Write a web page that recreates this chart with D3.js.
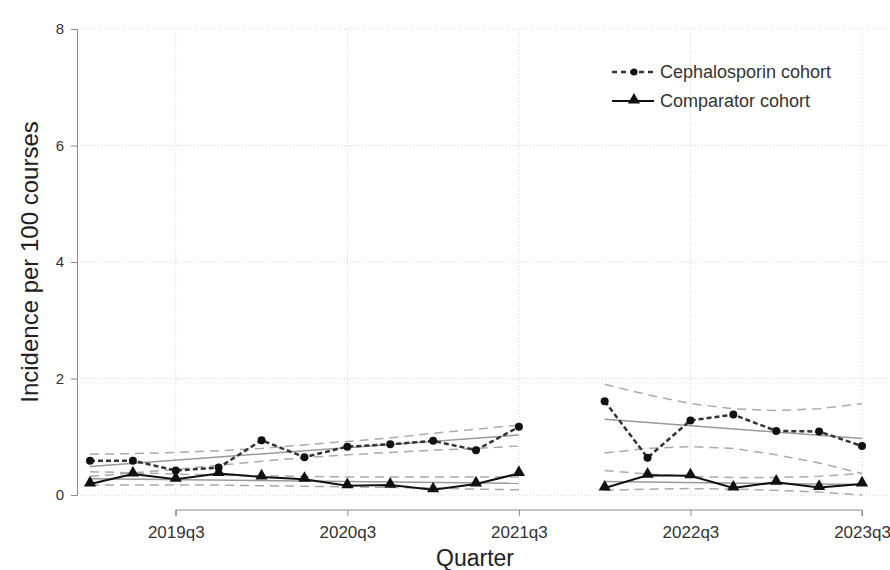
<!DOCTYPE html>
<html>
<head>
<meta charset="utf-8">
<script src="https://cdn.jsdelivr.net/npm/d3@7"></script>
<style>
  body { margin: 0; background: #fff; }
  svg { font-family: "Liberation Sans", Arial, sans-serif; }
</style>
</head>
<body>
<svg id="chart" width="890" height="570"></svg>
<script>
(function () {
  'use strict';

  // quarter index: 0 = 2019q1
  var quarters1 = [0, 1, 2, 3, 4, 5, 6, 7, 8, 9, 10];   // 2019q1 .. 2021q3
  var quarters2 = [12, 13, 14, 15, 16, 17, 18];          // 2022q1 .. 2023q3

  var tickQuarters = [2, 6, 10, 14, 18];
  var tickLabels = ['2019q3', '2020q3', '2021q3', '2022q3', '2023q3'];
  var yTicks = [0, 2, 4, 6, 8];

  // observed incidence per 100 courses
  var ceph1 = [0.59, 0.59, 0.42, 0.47, 0.94, 0.65, 0.83, 0.87, 0.93, 0.77, 1.17];
  var comp1 = [0.19, 0.36, 0.27, 0.37, 0.31, 0.27, 0.16, 0.17, 0.09, 0.19, 0.37];
  var ceph2 = [1.61, 0.64, 1.28, 1.38, 1.10, 1.09, 0.84];
  var comp2 = [0.12, 0.34, 0.33, 0.12, 0.22, 0.13, 0.19];

  // fitted trends and 95% CI
  var cephFit1 = [0.49, 1.03];
  var cephUp1 = [0.70, 0.71, 0.73, 0.76, 0.80, 0.86, 0.92, 0.98, 1.06, 1.13, 1.20];
  var cephLo1 = [0.32, 0.38, 0.44, 0.51, 0.58, 0.64, 0.69, 0.73, 0.77, 0.80, 0.84];
  var compFit1 = [0.28, 0.20];
  var compUp1 = [0.40, 0.38, 0.36, 0.34, 0.33, 0.32, 0.31, 0.31, 0.31, 0.31, 0.31];
  var compLo1 = [0.17, 0.17, 0.17, 0.17, 0.16, 0.15, 0.14, 0.13, 0.12, 0.10, 0.09];

  var cephFit2 = [1.30, 0.97];
  var cephUp2 = [1.90, 1.72, 1.57, 1.48, 1.45, 1.48, 1.57];
  var cephLo2 = [0.72, 0.80, 0.83, 0.80, 0.69, 0.55, 0.37];
  var compFit2 = [0.23, 0.18];
  var compUp2 = [0.42, 0.36, 0.32, 0.30, 0.30, 0.32, 0.37];
  var compLo2 = [0.08, 0.10, 0.11, 0.10, 0.08, 0.05, 0.00];

  var svg = d3.select('#chart');

  var x = d3.scaleLinear().domain([0, 18]).range([90, 862]);
  var y = d3.scaleLinear().domain([0, 8]).range([495, 29]);

  // gridlines
  svg.append('g').selectAll('line')
    .data(yTicks)
    .enter().append('line')
    .attr('x1', 80).attr('x2', 888)
    .attr('y1', function (d) { return y(d); })
    .attr('y2', function (d) { return y(d); })
    .attr('stroke', '#d8d8d8')
    .attr('stroke-dasharray', '1,2');

  svg.append('g').selectAll('line')
    .data(tickQuarters)
    .enter().append('line')
    .attr('x1', function (d) { return x(d); })
    .attr('x2', function (d) { return x(d); })
    .attr('y1', y(8)).attr('y2', y(0))
    .attr('stroke', '#d8d8d8')
    .attr('stroke-dasharray', '1,2');

  // y axis
  var yAxis = svg.append('g')
    .attr('transform', 'translate(77,0)')
    .call(d3.axisLeft(y).tickValues(yTicks).tickSize(6).tickPadding(7));
  yAxis.selectAll('path, line').attr('stroke', '#888');
  yAxis.selectAll('text').attr('fill', '#333').style('font-size', '15px');

  // x axis
  var xAxis = svg.append('g')
    .attr('transform', 'translate(0,510)')
    .call(d3.axisBottom(x).tickValues(tickQuarters)
      .tickFormat(function (d, i) { return tickLabels[i]; })
      .tickSize(6).tickPadding(10));
  xAxis.select('.domain').attr('d', 'M' + x(2) + ',6V0H' + x(18) + 'V6').attr('stroke', '#888');
  xAxis.selectAll('line').attr('stroke', '#888');
  xAxis.selectAll('text').attr('fill', '#333').style('font-size', '17px');

  svg.append('text')
    .attr('x', 475).attr('y', 566)
    .attr('text-anchor', 'middle')
    .attr('fill', '#222')
    .style('font-size', '23px')
    .text('Quarter');

  svg.append('text')
    .attr('transform', 'translate(38,262) rotate(-90)')
    .attr('text-anchor', 'middle')
    .attr('fill', '#222')
    .style('font-size', '24px')
    .text('Incidence per 100 courses');

  var line = d3.line()
    .x(function (d) { return x(d[0]); })
    .y(function (d) { return y(d[1]); });

  function pairs (qs, vals) {
    return qs.map(function (q, i) { return [q, vals[i]]; });
  }

  function drawFit (qs, fit, up, lo) {
    svg.append('path')
      .datum([[qs[0], fit[0]], [qs[qs.length - 1], fit[1]]])
      .attr('d', line)
      .attr('fill', 'none')
      .attr('stroke', '#999')
      .attr('stroke-width', 1.5);
    [up, lo].forEach(function (band) {
      svg.append('path')
        .datum(pairs(qs, band))
        .attr('d', line)
        .attr('fill', 'none')
        .attr('stroke', '#aaa')
        .attr('stroke-width', 1.5)
        .attr('stroke-dasharray', '9,6');
    });
  }

  drawFit(quarters1, cephFit1, cephUp1, cephLo1);
  drawFit(quarters1, compFit1, compUp1, compLo1);
  drawFit(quarters2, cephFit2, cephUp2, cephLo2);
  drawFit(quarters2, compFit2, compUp2, compLo2);

  var tri = d3.symbol().type(d3.symbolTriangle).size(65);

  function drawSeries (qs, vals, dashed) {
    var pts = pairs(qs, vals);
    svg.append('path')
      .datum(pts)
      .attr('d', line)
      .attr('fill', 'none')
      .attr('stroke', dashed ? '#333' : '#111')
      .attr('stroke-width', dashed ? 2.5 : 2)
      .attr('stroke-dasharray', dashed ? '5,3' : null);
    if (dashed) {
      svg.append('g').selectAll('circle')
        .data(pts)
        .enter().append('circle')
        .attr('cx', function (d) { return x(d[0]); })
        .attr('cy', function (d) { return y(d[1]); })
        .attr('r', 4)
        .attr('fill', '#111');
    } else {
      svg.append('g').selectAll('path')
        .data(pts)
        .enter().append('path')
        .attr('d', tri)
        .attr('transform', function (d) { return 'translate(' + x(d[0]) + ',' + (y(d[1]) - 1) + ')'; })
        .attr('fill', '#111');
    }
  }

  drawSeries(quarters1, ceph1, true);
  drawSeries(quarters1, comp1, false);
  drawSeries(quarters2, ceph2, true);
  drawSeries(quarters2, comp2, false);

  // legend
  var legend = svg.append('g').attr('transform', 'translate(612,72)');
  var items = [
    { label: 'Cephalosporin cohort', dashed: true },
    { label: 'Comparator cohort', dashed: false }
  ];
  items.forEach(function (it, i) {
    var g = legend.append('g').attr('transform', 'translate(0,' + (i * 29) + ')');
    g.append('line')
      .attr('x1', 0).attr('x2', 42)
      .attr('stroke', it.dashed ? '#333' : '#111')
      .attr('stroke-width', it.dashed ? 2.5 : 2)
      .attr('stroke-dasharray', it.dashed ? '5,4' : null);
    if (it.dashed) {
      g.append('circle').attr('cx', 22).attr('r', 3.5).attr('fill', '#111');
    } else {
      g.append('path').attr('d', tri).attr('transform', 'translate(22,-1)').attr('fill', '#111');
    }
    g.append('text')
      .attr('x', 48).attr('y', 6)
      .attr('fill', '#333')
      .style('font-size', '18px')
      .text(it.label);
  });
}());
</script>
</body>
</html>
